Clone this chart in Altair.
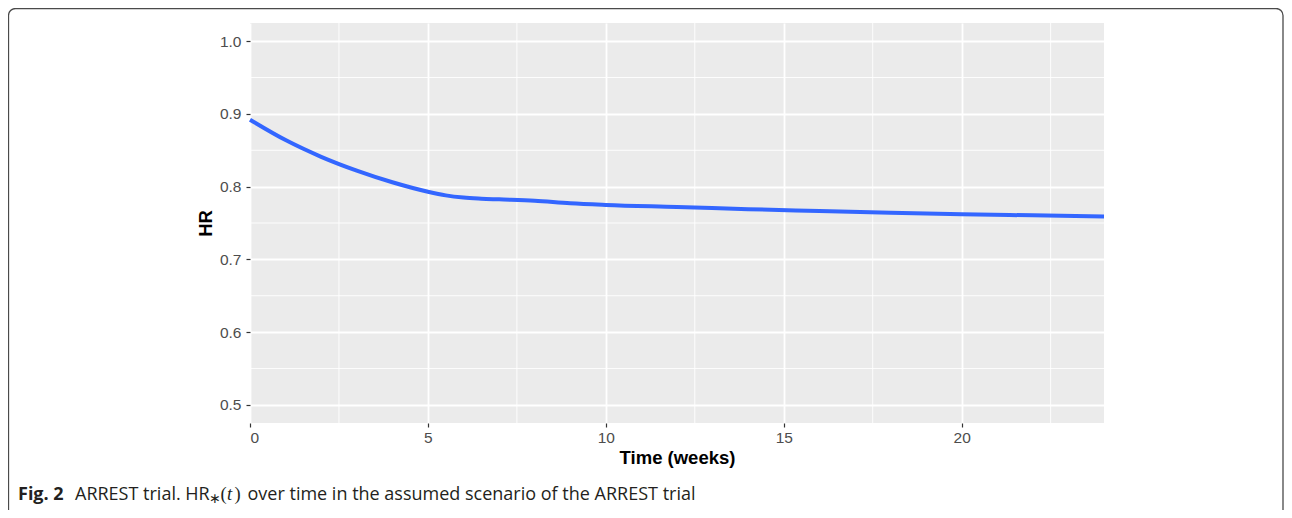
import altair as alt
import pandas as pd

# Data
time_weeks = [0, 1, 2, 3, 4, 5, 5.5, 6, 6.5, 7, 8, 9, 10, 12, 14, 16, 18, 20, 22, 24]
hr_values = [0.892, 0.864, 0.841, 0.822, 0.806, 0.793, 0.788, 0.785, 0.7835, 0.7825,
             0.7805, 0.777, 0.7748, 0.772, 0.769, 0.7665, 0.764, 0.762, 0.7605, 0.759]
x_ticks = [0, 5, 10, 15, 20]
y_ticks = [0.5, 0.6, 0.7, 0.8, 0.9, 1.0]
x_minor = [2.5, 7.5, 12.5, 17.5, 22.5]
y_minor = [0.55, 0.65, 0.75, 0.85, 0.95]

df = pd.DataFrame({"t": time_weeks, "hr": hr_values})

W, H = 854, 400
xs = alt.Scale(domain=[0, 24], nice=False, zero=False)
ys = alt.Scale(domain=[0.475, 1.025], nice=False, zero=False)

LABEL_FONT = "Liberation Sans"
CAP_FONT = "Open Sans"

base = alt.Chart(df)

line = base.mark_line(color="#3366FF", strokeWidth=4, interpolate="monotone").encode(
    x=alt.X("t:Q", scale=xs, axis=alt.Axis(
        values=x_ticks, title="Time (weeks)", grid=True, gridColor="white", gridWidth=1.8,
        domain=False, tickColor="#333333", tickSize=4, tickWidth=1.2,
        labelColor="#4D4D4D", labelFont=LABEL_FONT, labelFontSize=15.5, labelPadding=3,
        titleFont=LABEL_FONT, titleFontSize=18.5, titleFontWeight="bold", titleColor="black",
        titleX=W / 2, titleY=40, titleBaseline="alphabetic")),
    y=alt.Y("hr:Q", scale=ys, axis=alt.Axis(
        values=y_ticks, format=".1f", title="HR", grid=True, gridColor="white", gridWidth=1.8,
        domain=False, tickColor="#333333", tickSize=4, tickWidth=1.2,
        labelColor="#4D4D4D", labelFont=LABEL_FONT, labelFontSize=15.5, labelPadding=5,
        titleFont=LABEL_FONT, titleFontSize=18.5, titleFontWeight="bold", titleColor="black",
        titleAngle=-90, titleX=-45, titleY=H / 2, titleBaseline="middle", titleAlign="center")),
)

vminor = alt.Chart(pd.DataFrame({"x": x_minor})).mark_rule(color="white", strokeWidth=0.9).encode(
    x=alt.X("x:Q", scale=xs))
hminor = alt.Chart(pd.DataFrame({"y": y_minor})).mark_rule(color="white", strokeWidth=0.9).encode(
    y=alt.Y("y:Q", scale=ys))

one = alt.Data(values=[{"a": 1}])

frame = alt.Chart(one).mark_rect(filled=False, stroke="#4a4a4a", strokeWidth=1.3, cornerRadius=7).encode(
    x=alt.value(-241.5), x2=alt.value(1033), y=alt.value(-14.5), y2=alt.value(520))

CAP_Y = 477

def txt(s, x, y=CAP_Y, font=CAP_FONT, size=18, weight="normal", style="normal"):
    return alt.Chart(one).mark_text(text=s, align="left", baseline="alphabetic", font=font,
                                    fontSize=size, fontWeight=weight, fontStyle=style,
                                    color="#231f20").encode(x=alt.value(x), y=alt.value(y))

cap = [
    txt("Fig. 2", -232, weight="bold"),
    txt("ARREST trial. HR", -175),
    txt("∗", -41.5, y=CAP_Y + 3, size=14),
    txt("(", -29.5, font="Liberation Serif", size=18.5),
    txt("t", -23, font="Liberation Serif", size=18.5, style="italic"),
    txt(")", -15.5, font="Liberation Serif", size=18.5),
    txt("over time in the assumed scenario of the ARREST trial", -2.5),
]

chart = alt.layer(vminor, hminor, line, frame, *cap).properties(
    width=W, height=H,
    autosize=alt.AutoSizeParams(type="none"),
    padding={"left": 242, "top": 15, "right": 180, "bottom": 87},
    background="white",
).configure_view(fill="#EBEBEB", stroke=None)

chart.save("out.html", embed_options={"renderer": "svg", "actions": False})
